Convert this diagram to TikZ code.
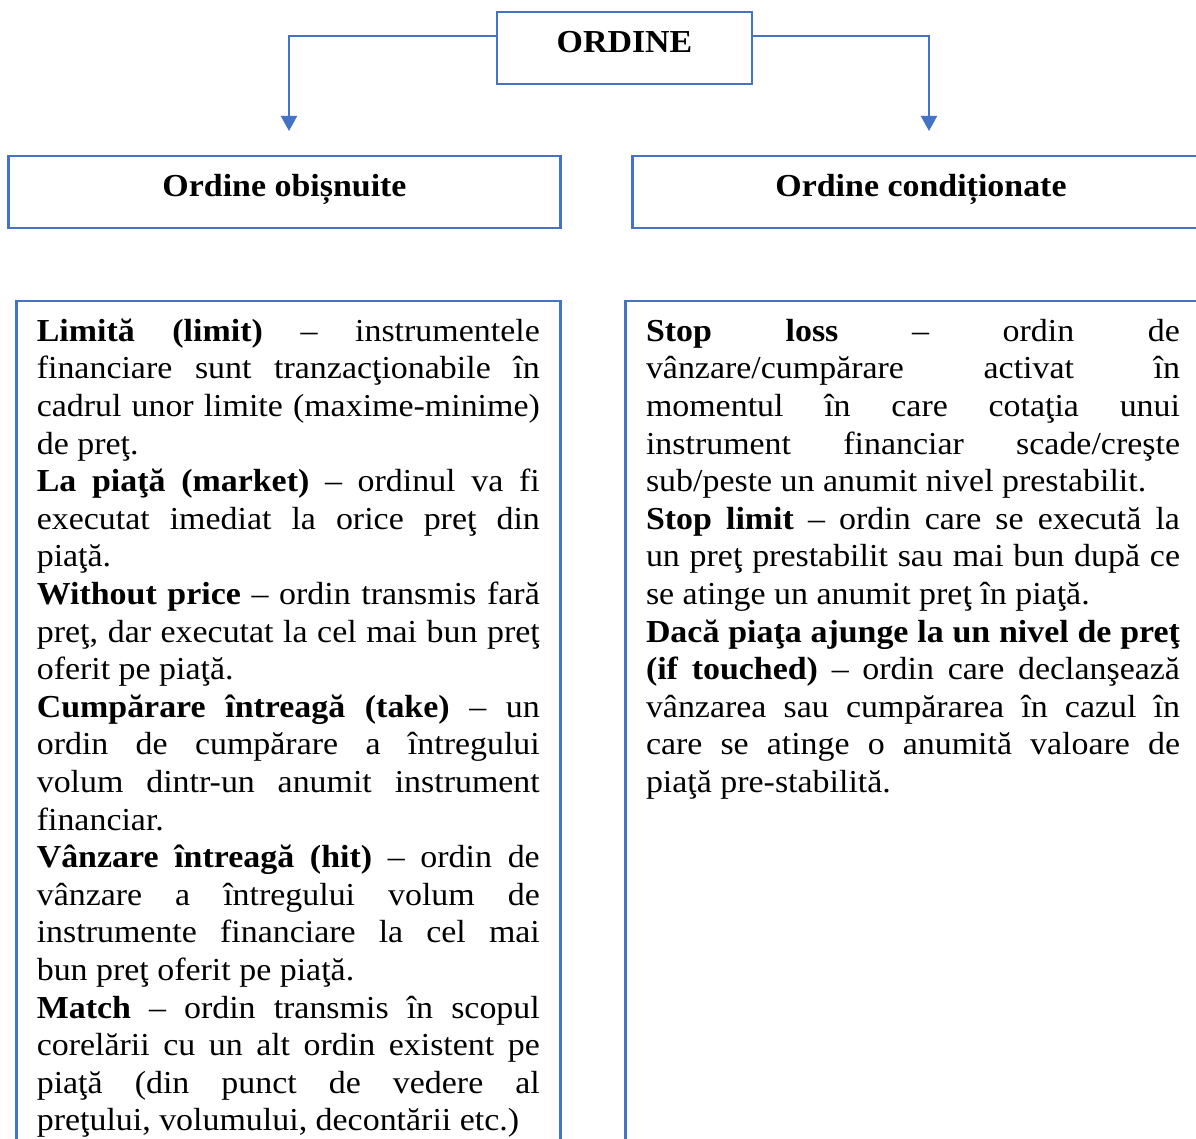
\documentclass[tikz,border=0pt]{standalone}
\usepackage{fontspec}
\setmainfont{Liberation Serif}[FakeStretch=1.06]
\usetikzlibrary{arrows.meta}
\definecolor{ordblue}{HTML}{4472C4}

\begin{document}
\begin{tikzpicture}[x=0.5pt,y=-0.5pt,
    frame/.style={draw=ordblue,line width=1.2pt,inner sep=0pt,outer sep=0pt},
    headbox/.style={frame,minimum height=36pt,text height=11pt,text depth=6.5pt,
      font=\fontsize{16}{18.8}\selectfont\bfseries},
    listbox/.style={frame,anchor=north west,align=justify,
      inner xsep=10.25pt,inner ysep=6.25pt,font=\fontsize{16}{18.8}\selectfont},
    link/.style={draw=ordblue,line width=1pt,-{Triangle[width=8pt,length=7.5pt]}}]
  \useasboundingbox (0,0) rectangle (1196,1139);
  \clip (0,0) rectangle (1196,1139);

  \node[headbox,minimum width=127.5pt] (ordine) at (624.5,48) {ORDINE};
  \node[headbox,minimum width=276pt] (obis) at (284.5,192) {Ordine obișnuite};
  \node[headbox,minimum width=288.5pt] (cond) at (921,192) {Ordine condiționate};

  \coordinate (obisin) at (289,131);
  \coordinate (condin) at (929,131);
  \draw[link] ([yshift=6pt]ordine.west) -| (obisin);
  \draw[link] ([yshift=6pt]ordine.east) -| (condin);

  \node[listbox,text width=251.5pt] (obislist) at (16.3,300.8) {%
    \rule{0pt}{14pt}\textbf{Limită (limit)} – instrumentele\linebreak
    financiare sunt tranzacţionabile în\linebreak
    cadrul unor limite (maxime-minime)\linebreak
    de preţ.\par
    \textbf{La piaţă (market)} – ordinul va fi\linebreak
    executat imediat la orice preţ din\linebreak
    piaţă.\par
    \textbf{Without price} – ordin transmis fară\linebreak
    preţ, dar executat la cel mai bun preţ\linebreak
    oferit pe piaţă.\par
    \textbf{Cumpărare întreagă (take)} – un\linebreak
    ordin de cumpărare a întregului\linebreak
    volum dintr-un anumit instrument\linebreak
    financiar.\par
    \textbf{Vânzare întreagă (hit)} – ordin de\linebreak
    vânzare a întregului volum de\linebreak
    instrumente financiare la cel mai\linebreak
    bun preţ oferit pe piaţă.\par
    \textbf{Match} – ordin transmis în scopul\linebreak
    corelării cu un alt ordin existent pe\linebreak
    piaţă (din punct de vedere al\linebreak
    preţului, volumului, decontării etc.)\par
    \rule{0pt}{150pt}};

  \node[listbox,text width=267pt] (condlist) at (625.5,300.8) {%
    \rule{0pt}{14pt}\textbf{Stop loss} – ordin de\linebreak
    vânzare/cumpărare activat în\linebreak
    momentul în care cotaţia unui\linebreak
    instrument financiar scade/creşte\linebreak
    sub/peste un anumit nivel prestabilit.\par
    \textbf{Stop limit} – ordin care se execută la\linebreak
    un preţ prestabilit sau mai bun după ce\linebreak
    se atinge un anumit preţ în piaţă.\par
    \textbf{Dacă piaţa ajunge la un nivel de preţ\linebreak
    (if touched)} – ordin care declanşează\linebreak
    vânzarea sau cumpărarea în cazul în\linebreak
    care se atinge o anumită valoare de\linebreak
    piaţă pre-stabilită.\par
    \rule{0pt}{400pt}};
\end{tikzpicture}
\end{document}
